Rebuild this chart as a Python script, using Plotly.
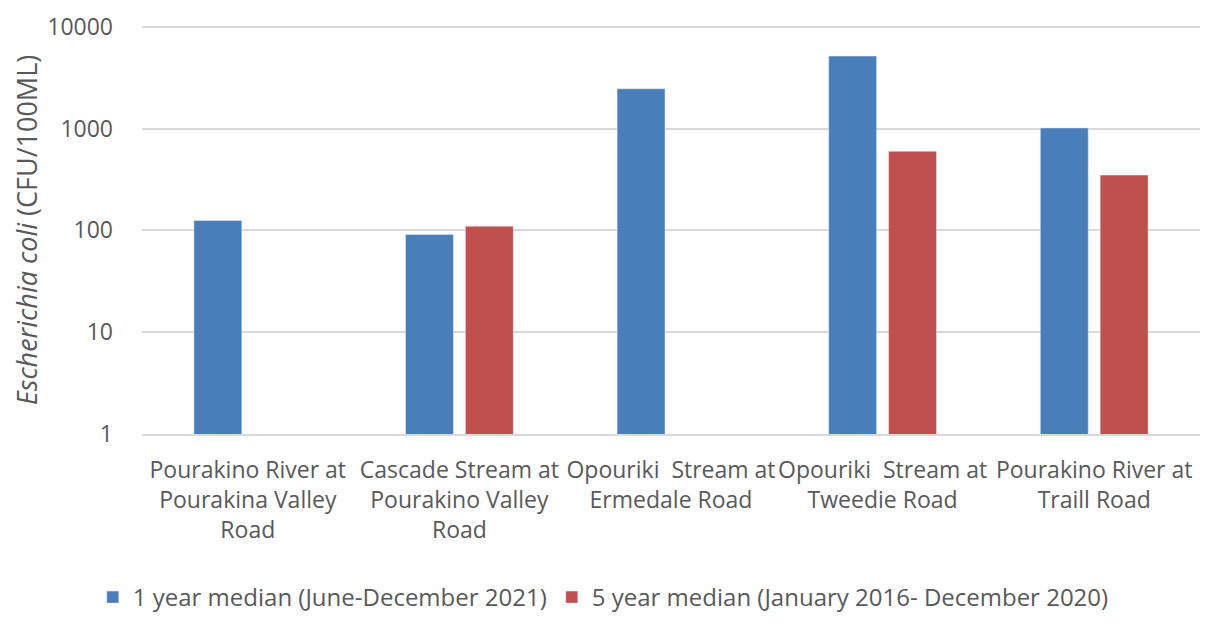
import plotly.graph_objects as go

sites = [
    "Pourakino River at<br>Pourakina Valley<br>Road",
    "Cascade Stream at<br>Pourakino Valley<br>Road",
    "Opouriki  Stream at<br>Ermedale Road",
    "Opouriki  Stream at<br>Tweedie Road",
    "Pourakino River at<br>Traill Road",
]
median_1yr = [125, 91, 2480, 5200, 1020]
median_5yr = [None, 110, None, 600, 350]

tick_vals = [1, 10, 100, 1000, 10000]
tick_text = ["1", "10", "100", "1000", "10000"]

GREY = "#595959"
FONT = "Open Sans"

fig = go.Figure()
fig.add_trace(
    go.Bar(
        x=sites,
        y=median_1yr,
        name="1 year median (June-December 2021)",
        marker_color="#4A7EBB",
    )
)
fig.add_trace(
    go.Bar(
        x=sites,
        y=median_5yr,
        name="5 year median (January 2016- December 2020)",
        marker_color="#C0504D",
    )
)

# leave room for the page body margin so the page fits the window
fig.update_layout(
    width=1193,
    height=612,
    margin=dict(l=134, r=1, t=18, b=186),
    plot_bgcolor="white",
    paper_bgcolor="white",
    barmode="group",
    bargap=0.434,
    bargroupgap=0.2,
    font=dict(family=FONT, color=GREY, size=23),
    legend=dict(
        orientation="h",
        xref="paper",
        x=0.436,
        xanchor="center",
        yref="container",
        y=0.0,
        yanchor="bottom",
        font=dict(size=24, color=GREY),
    ),
)

fig.update_xaxes(
    automargin=False,
    showline=True,
    linecolor="#D9D9D9",
    linewidth=1.5,
    tickfont=dict(size=23, color=GREY),
    ticklabelstandoff=15,
)
fig.update_yaxes(
    automargin=False,
    type="log",
    range=[-0.005, 4.012],
    tickvals=tick_vals,
    ticktext=tick_text,
    showgrid=True,
    gridcolor="#D9D9D9",
    gridwidth=1.5,
    zeroline=False,
    tickfont=dict(size=23, color=GREY),
    ticklabelstandoff=28,
    title=dict(
        text="<i>Escherichia coli</i> (CFU/100ML)",
        font=dict(size=27, color=GREY),
        standoff=6,
    ),
)

fig.write_html("out.html")
